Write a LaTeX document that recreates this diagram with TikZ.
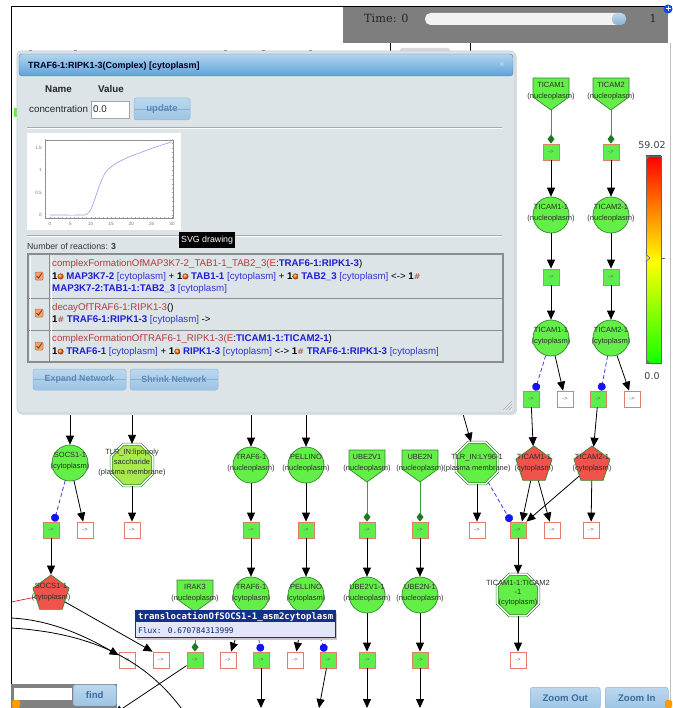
\documentclass[tikz,border=0pt]{standalone}
\usepackage{fontspec}
\setmainfont{Liberation Sans}
\newfontfamily\monofont{DejaVu Sans Mono}
\newfontfamily\serfont{DejaVu Serif}
\newfontfamily\symfont{DejaVu Sans}
\usetikzlibrary{shapes.geometric,arrows.meta}

% palette
\definecolor{gfill}{HTML}{64EE48}
\definecolor{gdraw}{HTML}{2F8A2A}
\definecolor{lpsfill}{HTML}{A8EA4A}
\definecolor{rfill}{HTML}{F0524C}
\definecolor{sqdraw}{HTML}{E27C6E}
\definecolor{sqgreen}{HTML}{5EEE4C}
\definecolor{modgreen}{HTML}{1F7A1F}
\definecolor{modline}{HTML}{3D9B3D}
\definecolor{dashblue}{HTML}{3B3BE6}
\definecolor{dotblue}{HTML}{1414F0}
\definecolor{lblcol}{HTML}{2E2E2E}
\definecolor{dlgbg}{HTML}{DDE4E8}
\definecolor{dlgedge}{HTML}{C3CCD1}
\definecolor{titletop}{HTML}{B2D5F0}
\definecolor{titlebot}{HTML}{5FA1D8}
\definecolor{btntop}{HTML}{BBD8EF}
\definecolor{btnbot}{HTML}{9DC4E4}
\definecolor{btnedge}{HTML}{8FB8DC}
\definecolor{btnstripe}{HTML}{86AFD4}
\definecolor{btntext}{HTML}{5B87B6}
\definecolor{zbtntext}{HTML}{3A6C9C}
\definecolor{rxred}{HTML}{B23C3C}
\definecolor{ered}{HTML}{E42A2A}
\definecolor{spblue}{HTML}{1E1ED6}
\definecolor{cytblue}{HTML}{3434D4}
\definecolor{cplxcol}{HTML}{B46A5C}
\definecolor{chkfill}{HTML}{F2A06C}
\definecolor{chkedge}{HTML}{C0703E}
\definecolor{panelgray}{HTML}{7E7E7E}
\definecolor{tipnavy}{HTML}{13318A}
\definecolor{tipbody}{HTML}{E2E6F7}
\definecolor{sepline}{HTML}{A3ABB0}
\definecolor{tablegray}{HTML}{8C8C8C}
\definecolor{plotcol}{HTML}{9A9AF0}

\tikzset{
  lbltext/.style={font=\fontsize{7.5}{11}\selectfont, align=center, inner sep=0, text=lblcol},
  cyto/.style={circle, draw=gdraw, fill=gfill, minimum size=36pt, inner sep=0, line width=0.7pt},
  octo/.style={regular polygon, regular polygon sides=8, draw=gdraw, double=white, double distance=1.5pt, fill=gfill, minimum size=45pt, inner sep=0, line width=0.7pt},
  pent/.style={regular polygon, regular polygon sides=5, draw=gdraw, fill=rfill, minimum size=38pt, inner sep=0, line width=0.7pt},
  nucstyle/.style={fill=gfill, draw=gdraw, line width=0.7pt},
  rxg/.style={rectangle, draw=sqdraw, fill=sqgreen, minimum size=16pt, inner sep=0, font=\fontsize{5.5}{6}\selectfont, text=black!65, line width=0.8pt},
  rxw/.style={rxg, fill=white},
  flow/.style={-{Triangle[length=9pt,width=8pt]}, line width=0.8pt, black},
  modl/.style={draw=modline, line width=0.8pt, -{Diamond[length=9pt,width=7pt,color=modgreen]}},
  catl/.style={draw=dashblue, dash pattern=on 4pt off 2.5pt, line width=0.8pt, -{Circle[length=8pt,color=dotblue]}},
  btn/.style={rounded corners=2.5pt, top color=btntop, bottom color=btnbot, draw=btnedge, line width=0.5pt, text=btntext, inner sep=0,
    path picture={\draw[btnstripe, line width=0.7pt] (path picture bounding box.west) -- (path picture bounding box.east);}},
  zbtn/.style={rounded corners=2.5pt, top color=btntop, bottom color=btnbot, draw=btnedge, line width=0.5pt, text=zbtntext, inner sep=0,
    font=\bfseries\fontsize{9.6}{10}\selectfont},
  rxline/.style={anchor=base west, inner sep=0, font=\fontsize{9.7}{11}\selectfont},
  uitext/.style={anchor=base west, inner sep=0, text=black!85},
  tick/.style={gray!70, line width=0.3pt},
  axlbl/.style={font=\fontsize{4.6}{5}\selectfont, text=black!55, inner sep=0},
}

% species glyph in the nucleoplasm: box with a pointed bottom
\newcommand\nucshape[4]{%
  \filldraw[nucstyle] (#2-18,#3) -- (#2+18,#3) -- (#2+18,#3+19) -- (#2,#3+32) -- (#2-18,#3+19) -- cycle;
  \node[lbltext] (#1) at (#2,#3+13) {#4\\(nucleoplasm)};
  \coordinate (#1-tip) at (#2,#3+32);}
\newcommand\circnode[5]{%
  \node[cyto] (#1) at (#2,#3) {};
  \node[lbltext] (#1-t) at (#2,#3-2) {#4\\#5};}
\newcommand\pentnode[5]{%
  \node[pent] (#1) at (#2,#3) {};
  \node[lbltext] (#1-t) at (#2,#3-1.5) {#4\\#5};}
\newcommand\chkbox[2]{%
  \filldraw[fill=chkfill, draw=chkedge, rounded corners=1pt, line width=0.5pt] (#1-4,#2-4) rectangle (#1+4,#2+4);
  \draw[chkedge!60!black, line width=0.9pt] (#1-2.5,#2) -- (#1-0.5,#2+2) -- (#1+2.8,#2-2.6);}

% reaction list pieces
\newcommand\rxname[1]{\textcolor{rxred}{#1}}
\newcommand\rxsp[1]{{\bfseries\color{spblue}#1}}
\newcommand\rxcyt{\textcolor{cytblue}{[cytoplasm]}}
\newcommand\rxone{{\bfseries 1}}
\newcommand\rxball{\tikz[baseline=-3pt,x=1pt,y=1pt]{\shade[ball color=orange!85!red] (0,0) circle[radius=3pt];}}
\newcommand\rxcplx{{\symfont\bfseries\fontsize{8}{8}\selectfont\textcolor{cplxcol}{\#}}}

\begin{document}
\begin{tikzpicture}[x=1pt,y=-1pt]
\useasboundingbox (0,0) rectangle (672,708);
\fill[white] (0,0) rectangle (672,708);

% ================= network =================
\begin{scope}
\clip (11,6) rectangle (672,708);

% scraps of the network showing round the dialog and the time bar
\draw[black, line width=0.8pt] (390,40) -- (390,56);
\draw[black, line width=0.8pt] (470,40) -- (470,56);
\fill[black!15, rounded corners=2pt] (400,48) rectangle (450,56);
\foreach \xx in {30,75,225,263,310} \draw[black!60, line width=0.8pt] (\xx-1.5,50) -- (\xx+1.5,50);
\fill[gfill] (14,108) rectangle (17,117);
\foreach \xa/\xb in {157/186,202/230,278/306,370/398,427/456,473/502}
  \filldraw[fill=gfill, draw=gdraw, line width=0.5pt] (\xa,404) rectangle (\xb,414);
\draw[dotblue, line width=0.8pt] (259,408) -- (259,414);
\draw[dotblue, line width=0.8pt] (329,408) -- (329,414);

% --- right-hand chains ---
\nucshape{ticamA}{551}{78}{TICAM1}
\nucshape{ticamB}{611}{78}{TICAM2}
\node[rxg] (sA1) at (551,152) {->};
\node[rxg] (sB1) at (611,152) {->};
\circnode{ticamAn}{551}{215}{TICAM1-1}{(nucleoplasm)}
\circnode{ticamBn}{611}{215}{TICAM2-1}{(nucleoplasm)}
\node[rxg] (sA2) at (551,277) {->};
\node[rxg] (sB2) at (611,277) {->};
\circnode{ticamAc}{551}{338}{TICAM1-1}{(cytoplasm)}
\circnode{ticamBc}{611}{338}{TICAM2-1}{(cytoplasm)}
\node[rxg] (sA3) at (531,399) {->};
\node[rxw] (sA4) at (565,399) {->};
\node[rxg] (sB3) at (598,399) {->};
\node[rxw] (sB4) at (632,399) {->};
\draw[modl] (ticamA-tip) -- (sA1);
\draw[modl] (ticamB-tip) -- (sB1);
\draw[flow] (sA1) -- (ticamAn);
\draw[flow] (sB1) -- (ticamBn);
\draw[flow] (ticamAn) -- (sA2);
\draw[flow] (ticamBn) -- (sB2);
\draw[flow] (sA2) -- (ticamAc);
\draw[flow] (sB2) -- (ticamBc);
\draw[catl] (ticamAc) -- ([xshift=4pt]sA3.north);
\draw[catl] (ticamBc) -- ([xshift=3pt]sB3.north);
\draw[flow] (ticamAc) -- (sA4);
\draw[flow] (ticamBc) -- (sB4);

% --- middle row ---
\coordinate (socsIn) at (70,400);
\coordinate (lpsIn) at (132,400);
\coordinate (trafIn) at (251,400);
\coordinate (pelIn) at (306,400);
\coordinate (lyIn) at (459,400);
\circnode{socs}{70}{463}{SOCS1-1}{(cytoplasm)}
\node[octo, fill=lpsfill] (lps) at (132,465) {};
\node[lbltext, font=\fontsize{7.5}{10}\selectfont] (lps-t) at (132,463) {TLR\_IN:lipopoly\\saccharide\\(plasma membrane)};
\circnode{trafN}{251}{465}{TRAF6-1}{(nucleoplasm)}
\circnode{pelN}{306}{465}{PELLINO}{(nucleoplasm)}
\nucshape{ubeA}{367}{450}{UBE2V1}
\nucshape{ubeB}{420}{450}{UBE2N}
\node[octo] (ly96) at (477,463) {};
\node[lbltext] (ly96-t) at (477,463) {TLR\_IN:LY96-1\\(plasma membrane)};
\pentnode{tpA}{534}{465}{TICAM1-1}{(cytoplasm)}
\pentnode{tpB}{592}{465}{TICAM2-1}{(cytoplasm)}

\node[rxg] (sS1) at (51,530) {->};
\node[rxw] (sS2) at (85,530) {->};
\node[rxw] (sLp) at (132,530) {->};
\node[rxg] (sTr) at (251,530) {->};
\node[rxg] (sPe) at (306,530) {->};
\node[rxg] (sU1) at (367,530) {->};
\node[rxg] (sN1) at (420,530) {->};
\node[rxw] (sLy) at (477,530) {->};
\node[rxg] (sP1) at (518,530) {->};
\node[rxw] (sP2) at (552,530) {->};
\node[rxw] (sP3) at (591,530) {->};

\draw[flow] (socsIn) -- (socs);
\draw[flow] (lpsIn) -- (lps);
\draw[flow] (trafIn) -- (trafN);
\draw[flow] (pelIn) -- (pelN);
\draw[flow] (lyIn) -- (ly96);
\draw[flow] (sA3) -- (tpA);
\draw[flow] (sB3) -- (tpB);
\draw[catl] (socs) -- ([xshift=3pt]sS1.north);
\draw[flow] (socs) -- (sS2);
\draw[flow] (lps) -- (sLp);
\draw[flow] (trafN) -- (sTr);
\draw[flow] (pelN) -- (sPe);
\draw[modl] (ubeA-tip) -- (sU1);
\draw[modl] (ubeB-tip) -- (sN1);
\draw[flow] (ly96) -- (sLy);
\draw[catl] (ly96) -- ([xshift=-7pt]sP1.north);
\draw[flow] (tpA) -- ([xshift=4pt]sP1.north);
\draw[flow] (tpA) -- (sP2);
\draw[flow] (tpB) -- (sP1.north east);
\draw[flow] (tpB) -- (sP3);

% --- lower row ---
\pentnode{socsP}{51}{594}{SOCS1-1}{(cytoplasm)}
\nucshape{irak}{195}{580}{IRAK3}
\circnode{trafC}{251}{595}{TRAF6-1}{(cytoplasm)}
\circnode{pelC}{306}{595}{PELLINO}{(cytoplasm)}
\circnode{ubeAc}{367}{595}{UBE2V1-1}{(nucleoplasm)}
\circnode{ubeBc}{420}{595}{UBE2N-1}{(nucleoplasm)}
\node[octo] (tcx) at (518,595) {};
\node[lbltext, font=\fontsize{7.5}{9.5}\selectfont] (tcx-t) at (518,593) {TICAM1-1:TICAM2\\-1\\(cytoplasm)};

\node[rxw] (sa) at (127,660) {->};
\node[rxw] (sb) at (161,660) {->};
\node[rxg] (sI) at (195,660) {->};
\node[rxw] (sc) at (228,660) {->};
\node[rxg] (sTr2) at (261,660) {->};
\node[rxw] (sd) at (295,660) {->};
\node[rxg] (sPe2) at (328,660) {->};
\node[rxg] (sU2) at (367,660) {->};
\node[rxg] (sN2) at (420,660) {->};
\node[rxw] (sT) at (518,660) {->};

\coordinate (redL) at (11,602);
\coordinate (cL1) at (11,618);
\coordinate (cL2) at (11,628);
\coordinate (cL2end) at (184,712);
\coordinate (irakOut) at (114,714);
\coordinate (trafOut) at (261,708);
\coordinate (pelOut) at (319,708);
\coordinate (ubeAOut) at (367,708);
\coordinate (ubeBOut) at (420,708);

\draw[flow] (sS1) -- (socsP);
\draw[red!85!black, line width=0.6pt] (redL) -- (socsP);
\draw[flow] (socsP) -- (sb.north west);
\draw[flow] (cL1) .. controls (55,620) and (92,640) .. (sa);
\draw[line width=0.8pt] (cL2) .. controls (75,632) and (140,650) .. (cL2end);
\draw[flow] (sTr) -- (trafC);
\draw[flow] (sPe) -- (pelC);
\draw[flow] (sU1) -- (ubeAc);
\draw[flow] (sN1) -- (ubeBc);
\draw[flow] (sP1) -- (tcx);
\draw[modl] (irak-tip) -- (sI);
\draw[flow] (sI) -- (irakOut);
\draw[flow] (trafC) -- (sc);
\draw[catl] (trafC) -- (sTr2.north);
\draw[flow] (pelC) -- (sd);
\draw[catl] (pelC) -- ([xshift=-3pt]sPe2.north);
\draw[flow] (sTr2) -- (trafOut);
\draw[flow] (sPe2) -- (pelOut);
\draw[flow] (ubeAc) -- (sU2);
\draw[flow] (ubeBc) -- (sN2);
\draw[flow] (sU2) -- (ubeAOut);
\draw[flow] (sN2) -- (ubeBOut);
\draw[flow] (tcx) -- (sT);
\end{scope}

% ================= window frame and time bar =================
\draw[black, line width=0.9pt] (11,708) -- (11,6) -- (672,6);
\draw[black!25, line width=0.8pt] (670,43) -- (670,708);
\fill[panelgray] (343,7) rectangle (668,43);
\node[anchor=base west, inner sep=0, font=\serfont\fontsize{11.3}{12}\selectfont, text=black!85] (timelbl) at (364,23) {Time: 0};
\fill[black!5, rounded corners=5.5pt] (425,13) rectangle (625,25);
\shade[top color=btntop, bottom color=btnbot!90!black, rounded corners=5pt] (612,13) rectangle (626,25);
\node[anchor=base, inner sep=0, font=\serfont\fontsize{11}{12}\selectfont, text=black!85] (timemax) at (653,23) {1};
\fill[blue!70!cyan] (668,9) circle[radius=4.5pt];
\draw[white, line width=1pt] (665.5,9) -- (670.5,9) (668,6.5) -- (668,11.5);

% ================= colour scale =================
\shade[top color=red, bottom color=yellow] (646,156) rectangle (661,262);
\shade[top color=yellow, bottom color=green!90!lime] (646,262) rectangle (661,363);
\draw[black!60, line width=0.5pt] (646,156) rectangle (661,363);
\draw[black!60, line width=0.5pt] (661,258) -- (665,258);
\draw[blue!70, fill=yellow!80!orange, line width=0.5pt] (646,254.5) -- (650,258) -- (646,261.5) -- cycle;
\fill[black!55] (646,156) -- (650,156) -- (646,160) -- cycle;
\fill[black!55] (646,363) -- (650,363) -- (646,359) -- cycle;
\node[font=\symfont\fontsize{9.5}{10}\selectfont, text=black!75, inner sep=0] (scalemax) at (652,145) {59.02};
\node[font=\symfont\fontsize{9.5}{10}\selectfont, text=black!75, inner sep=0] (scalemin) at (652,376) {0.0};

% ================= species dialog =================
\fill[black!12, rounded corners=4pt] (18,53) rectangle (517,415);
\filldraw[fill=dlgbg, draw=dlgedge, line width=0.6pt, rounded corners=4pt] (17,51) rectangle (515,413);
\shade[top color=titletop, bottom color=titlebot, rounded corners=3pt] (19,54) rectangle (513,76);
\draw[titlebot!80!black, line width=0.4pt, rounded corners=3pt] (19,54) rectangle (513,76);
\node[uitext, font=\bfseries\fontsize{9}{10}\selectfont, text=black!85!blue] (dlgtitle) at (28,68.3) {TRAF6-1:RIPK1-3(Complex) [cytoplasm]};
\node[inner sep=0, font=\fontsize{9}{10}\selectfont, text=titletop!70!white] (dlgclose) at (502,65) {×};

\node[uitext, font=\bfseries\fontsize{9.8}{11}\selectfont] (hdrname) at (45,92.5) {Name};
\node[uitext, font=\bfseries\fontsize{9.8}{11}\selectfont] (hdrvalue) at (98,92.5) {Value};
\node[uitext, font=\fontsize{9.8}{11}\selectfont] (conclbl) at (29,112.8) {concentration};
\node[draw=black!35, fill=white, minimum width=38pt, minimum height=17pt, anchor=west, inner sep=0] (concbox) at (91,109.5) {};
\node[uitext, font=\fontsize{9.8}{11}\selectfont] (concval) at (93,112.8) {0.0};
\node[btn, minimum width=56pt, minimum height=22pt, font=\bfseries\fontsize{9.6}{10}\selectfont] (updbtn) at (162,109) {update};

\draw[sepline, line width=0.8pt] (27,127) -- (502,127);
\draw[white, line width=0.6pt] (27,128.2) -- (502,128.2);

% time course of the concentration
\fill[white] (27,133) rectangle (181,230);
\draw[black!45, line width=0.35pt] (45,140) rectangle (173,218);
\foreach \t in {0,...,30} {
  \draw[tick] (50+4.0667*\t,218) -- ++(0,-1.3);
  \draw[tick] (50+4.0667*\t,140) -- ++(0,1.3);}
\foreach \v in {0,...,17} {
  \draw[tick] (45,215-4.47*\v) -- ++(1.3,0);
  \draw[tick] (173,215-4.47*\v) -- ++(-1.3,0);}
\foreach \t in {0,5,...,30} \node[axlbl] at (50+4.0667*\t,223.5) {\t};
\node[axlbl, anchor=east] (ylbl0) at (42,215) {0};
\node[axlbl, anchor=east] (ylbl1) at (42,192.7) {0.5};
\node[axlbl, anchor=east] (ylbl2) at (42,170.3) {1};
\node[axlbl, anchor=east] (ylbl3) at (42,148) {1.5};
\draw[plotcol, line width=0.6pt] plot[smooth, tension=0.55] coordinates {
  (50,215) (82.5,215) (86.6,214.2) (90.7,209.8) (94.7,199.4) (98.8,187.3)
  (102.9,177.2) (106.9,170.6) (115.1,164.0) (123.2,159.6) (131.3,156.0)
  (139.5,152.9) (151.7,148.4) (163.9,144.4) (172,141.7)};

\draw[sepline, line width=0.8pt] (27,235) -- (502,235);
\draw[white, line width=0.6pt] (27,236.2) -- (502,236.2);

\node[uitext, font=\fontsize{8.7}{10}\selectfont, text=black!80] (nrx) at (27,249.8) {Number of reactions: {\bfseries 3}};

% reaction table
\draw[tablegray, line width=1.3pt] (28,254) rectangle (503,362);
\draw[tablegray, line width=1pt] (28,298) -- (503,298) (28,330) -- (503,330) (49,254) -- (49,362);
\draw[white!80!dlgbg, line width=0.5pt] (30,256) -- (30,360) (51,256) -- (51,360);
\chkbox{39}{276}
\chkbox{39}{313}
\chkbox{39}{346}
\node[rxline] (r1a) at (52,266.6) {\rxname{complexFormationOfMAP3K7-2\_TAB1-1\_TAB2\_3(}\textcolor{ered}{E}:\rxsp{TRAF6-1:RIPK1-3})};
\node[rxline] (r1b) at (52,279.4) {\rxone\rxball\ \rxsp{MAP3K7-2} \rxcyt{} + \rxone\rxball\ \rxsp{TAB1-1} \rxcyt{} + \rxone\rxball\ \rxsp{TAB2\_3} \rxcyt{} <-> \rxone\rxcplx};
\node[rxline] (r1c) at (52,291.5) {\rxsp{MAP3K7-2:TAB1-1:TAB2\_3} \rxcyt};
\node[rxline] (r2a) at (52,310.5) {\rxname{decayOfTRAF6-1:RIPK1-3}()};
\node[rxline] (r2b) at (52,322.6) {\rxone\rxcplx\ \rxsp{TRAF6-1:RIPK1-3} \rxcyt{} ->};
\node[rxline] (r3a) at (52,341.6) {\rxname{complexFormationOfTRAF6-1\_RIPK1-3(}\textcolor{ered}{E}:\rxsp{TICAM1-1:TICAM2-1})};
\node[rxline] (r3b) at (52,354.5) {\rxone\rxball\ \rxsp{TRAF6-1} \rxcyt{} + \rxone\rxball\ \rxsp{RIPK1-3} \rxcyt{} <-> \rxone\rxcplx\ \rxsp{TRAF6-1:RIPK1-3} \rxcyt};

\node[btn, minimum width=93pt, minimum height=21pt, font=\bfseries\fontsize{8.9}{10}\selectfont] (expbtn) at (79.5,379.5) {Expand Network};
\node[btn, minimum width=88pt, minimum height=21pt, font=\bfseries\fontsize{8.9}{10}\selectfont] (shrbtn) at (174,379.5) {Shrink Network};

% resize grip
\foreach \d in {3,6,9} \draw[black!30, line width=0.5pt] (512-\d,410) -- (512,410-\d);

\node[fill=black, text=white, font=\fontsize{8.8}{10}\selectfont, inner xsep=2pt, inner ysep=0, minimum height=16pt, anchor=north west] (svgtip) at (179,232) {SVG drawing};

% ================= flux tooltip =================
\fill[black!22] (137,613) rectangle (337,639.5);
\fill[tipbody] (135,610) rectangle (335,637);
\fill[tipnavy] (135,610) rectangle (335,622);
\draw[tipnavy, line width=0.8pt] (135,610) rectangle (335,637);
\node[anchor=base west, inner sep=0, text=white, font=\monofont\bfseries\fontsize{9}{10}\selectfont] (fluxtitle) at (138,619.5) {translocationOfSOCS1-1\_asm2cytoplasm};
\node[anchor=base west, inner sep=0, text=tipnavy!80!black, font=\monofont\fontsize{7.8}{9}\selectfont] (fluxval) at (138,633) {Flux: 0.670784313999};

% ================= search box and zoom buttons =================
\fill[black!50] (11,684) rectangle (117,708);
\fill[white] (14,688) rectangle (72,700);
\node[zbtn, minimum width=43pt, minimum height=21pt, anchor=north west] (findbtn) at (73,684.5) {find};
\fill[orange!80!yellow, rounded corners=1.5pt] (12,700) rectangle (20,708);
\node[zbtn, minimum width=70pt, minimum height=22pt, anchor=north west] (zoomout) at (530,687) {Zoom Out};
\node[zbtn, minimum width=63pt, minimum height=22pt, anchor=north west] (zoomin) at (605,687) {Zoom In};
\fill[orange!80!yellow, rounded corners=1.5pt] (665,700) rectangle (672,708);
\end{tikzpicture}
\end{document}
